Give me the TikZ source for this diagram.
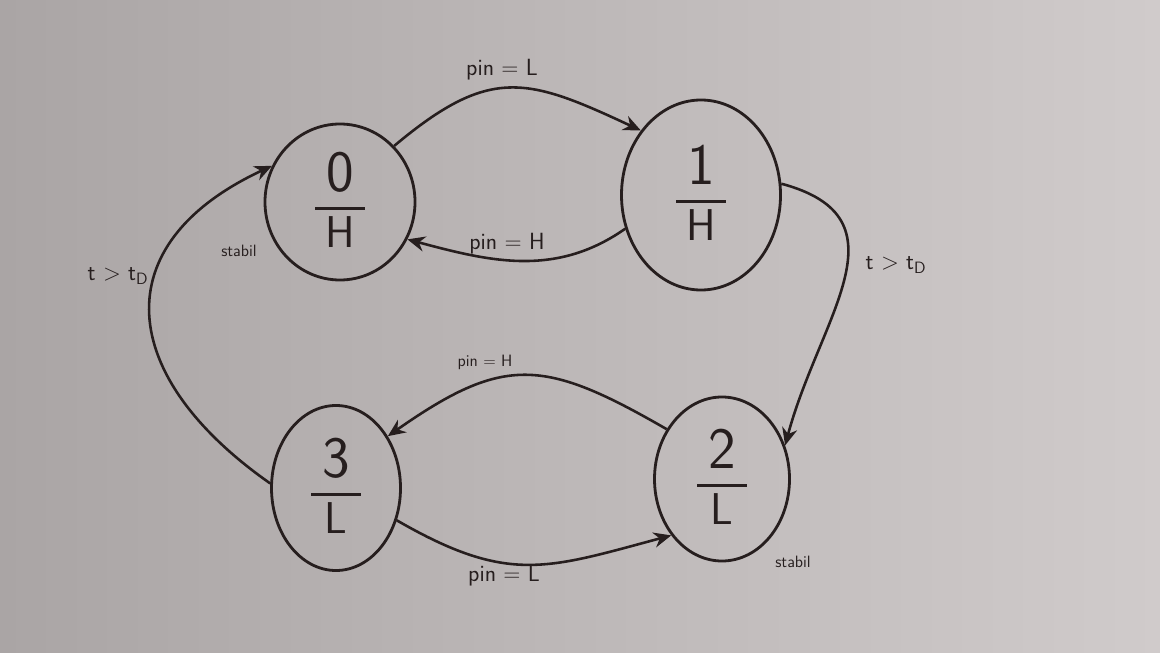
\documentclass[tikz,border=0pt]{standalone}
\usetikzlibrary{shapes.geometric,arrows.meta}
\definecolor{inkcol}{RGB}{38,30,30}
\definecolor{bgleft}{RGB}{170,165,165}
\definecolor{bgright}{RGB}{208,203,203}
\newcommand{\statefrac}[2]{%
  \begin{tabular}{@{}c@{}}
    {\fontsize{50}{50}\selectfont #1}\\[4pt]
    \rule{1.5cm}{2.4pt}\\[2pt]
    {\fontsize{38}{38}\selectfont #2}
  \end{tabular}}

\begin{document}
\begin{tikzpicture}[
    x=0.03cm, y=-0.03cm,
    state/.style={
        ellipse, draw=inkcol,
        line width=2.4pt,
        inner sep=0pt
    },
    trans/.style={draw=inkcol, line width=2.2pt,
        -{Stealth[length=15pt,width=13pt]}},
    lbl/.style={text=inkcol, font=\sffamily\fontsize{20}{22}\selectfont},
    small/.style={text=inkcol, font=\sffamily\fontsize{14}{16}\selectfont},
    inner/.style={text=inkcol, font=\sffamily}
]
\shade[left color=bgleft, right color=bgright] (0,0) rectangle (1160,653);

% states
\node[state, minimum width=4.5cm, minimum height=4.68cm,
      label={[inner, name=t0]center:\statefrac{0}{H}}] (s0) at (340,202) {};
\node[state, minimum width=4.77cm, minimum height=5.7cm,
      label={[inner, name=t1]center:\statefrac{1}{H}}] (s1) at (701,195) {};
\node[state, minimum width=4.05cm, minimum height=4.92cm,
      label={[inner, name=t2]center:\statefrac{2}{L}}] (s2) at (722,479) {};
\node[state, minimum width=3.87cm, minimum height=4.95cm,
      label={[inner, name=t3]center:\statefrac{3}{L}}] (s3) at (336,488) {};

% transitions
\draw[trans] (s0.46) to[out=40, in=155, looseness=1.3] (s1.133);
\draw[trans] (s1.204) to[out=215, in=-15] (s0.331);
\draw[trans] (s1.8) to[out=-15, in=75, looseness=1.3] (s2.28);
\draw[trans] (s2.138) to[out=150, in=35, looseness=1.3] (s3.45);
\draw[trans] (s3.332) to[out=-30, in=195, looseness=1.2] (s2.228);
\draw[trans] (s3.176) to[out=145, in=205, looseness=1.5] (s0.152);

% labels
\node[lbl] (l01) at (502,70) {pin = L};
\node[lbl] (l10) at (507,244) {pin = H};
\node[lbl] (l12) at (896,265) {t > t\textsubscript{D}};
\node[small] (l23) at (485,362) {pin = H};
\node[lbl] (l32) at (504,576) {pin = L};
\node[lbl] (l30) at (118,276) {t > t\textsubscript{D}};
\node[small] (st0) at (239,251) {stabil};
\node[small] (st2) at (793,562) {stabil};
\end{tikzpicture}
\end{document}
